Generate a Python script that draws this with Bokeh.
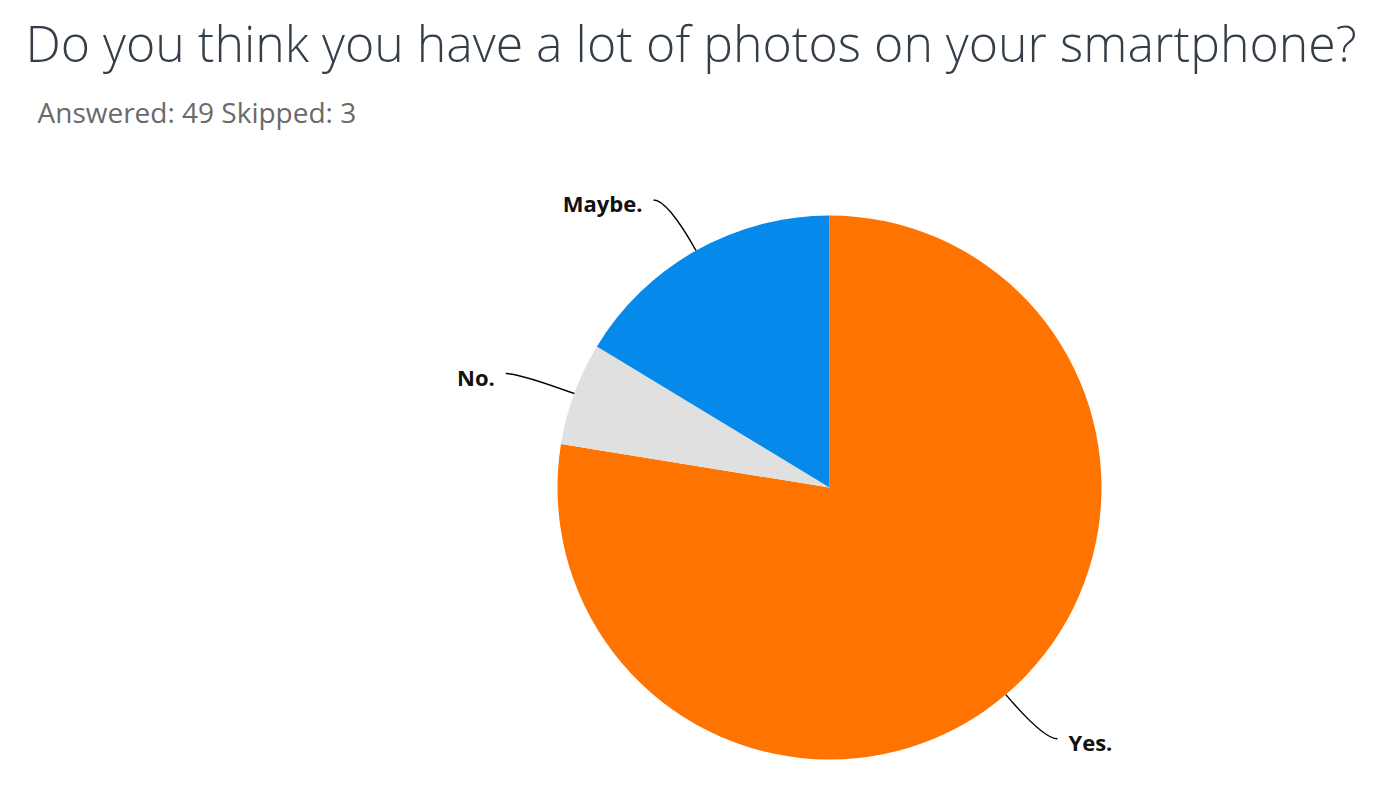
import math
from bokeh.plotting import figure
from bokeh.models import Range1d, ColumnDataSource
from bokeh.core.properties import value
from bokeh.embed import file_html
from bokeh.resources import INLINE

# ---- data ----
title_text = "Do you think you have a lot of photos on your smartphone?"
subtitle_text = "Answered: 49 Skipped: 3"
labels = ["Yes.", "No.", "Maybe."]
counts = [38, 3, 8]
colors = ["#FF7300", "#E0E0E0", "#0589EB"]

W, H = 1366, 788
p = figure(width=W, height=H, output_backend="svg", toolbar_location=None,
           x_range=Range1d(0, W), y_range=Range1d(0, H),
           min_border=0, x_axis_location=None, y_axis_location=None)
p.grid.visible = False
p.outline_line_color = None
p.background_fill_color = "white"

cx, cy, r = 829, H - 487, 272
total = sum(counts)
starts, ends, mids = [], [], []
cum = 0
for c in counts:
    s = math.pi / 2 - 2 * math.pi * cum / total
    e = s - 2 * math.pi * c / total
    starts.append(s)
    ends.append(e)
    mids.append((s + e) / 2)
    cum += c

src = ColumnDataSource(dict(start=starts, end=ends, color=colors, label=labels))
p.wedge(x=cx, y=cy, radius=r, start_angle="start", end_angle="end",
        direction="clock", fill_color="color", line_color=None, source=src)

# leader lines + labels
k, h, gap = 58, 14, 11
x0s, y0s, ctx, cty, x1s, y1s, tx, ty, al = [], [], [], [], [], [], [], [], []
for m in mids:
    dx, dy = math.cos(m), math.sin(m)
    sx, sy = cx + r * dx, cy + r * dy
    px, py = cx + (r + k) * dx, cy + (r + k) * dy
    sign = 1 if dx >= 0 else -1
    ex, ey = px + sign * h, py
    x0s.append(sx); y0s.append(sy); ctx.append(px); cty.append(py)
    x1s.append(ex); y1s.append(ey)
    tx.append(ex + sign * gap); ty.append(ey - 3)
    al.append("left" if sign > 0 else "right")

p.quadratic(x0=x0s, y0=y0s, x1=x1s, y1=y1s, cx=ctx, cy=cty,
            line_color="black", line_width=1.5)
p.text(x=tx, y=ty, text=labels, text_align=al, text_baseline="alphabetic",
       text_font=value("Open Sans"), text_font_style="bold",
       text_font_size="22px", text_color="#111111")

# title and subtitle
p.text(x=[25], y=[H - 42], text=[title_text], text_align="left",
       text_baseline="alphabetic", text_font=value("Open Sans Light, Roboto Light"),
       text_font_size="50px", text_color="#333E48")
p.text(x=[37], y=[H - 111], text=[subtitle_text], text_align="left",
       text_baseline="alphabetic", text_font=value("Open Sans"),
       text_font_size="28px", text_color="#6A6A6A")

open("out.html", "w").write(file_html(p, INLINE))
